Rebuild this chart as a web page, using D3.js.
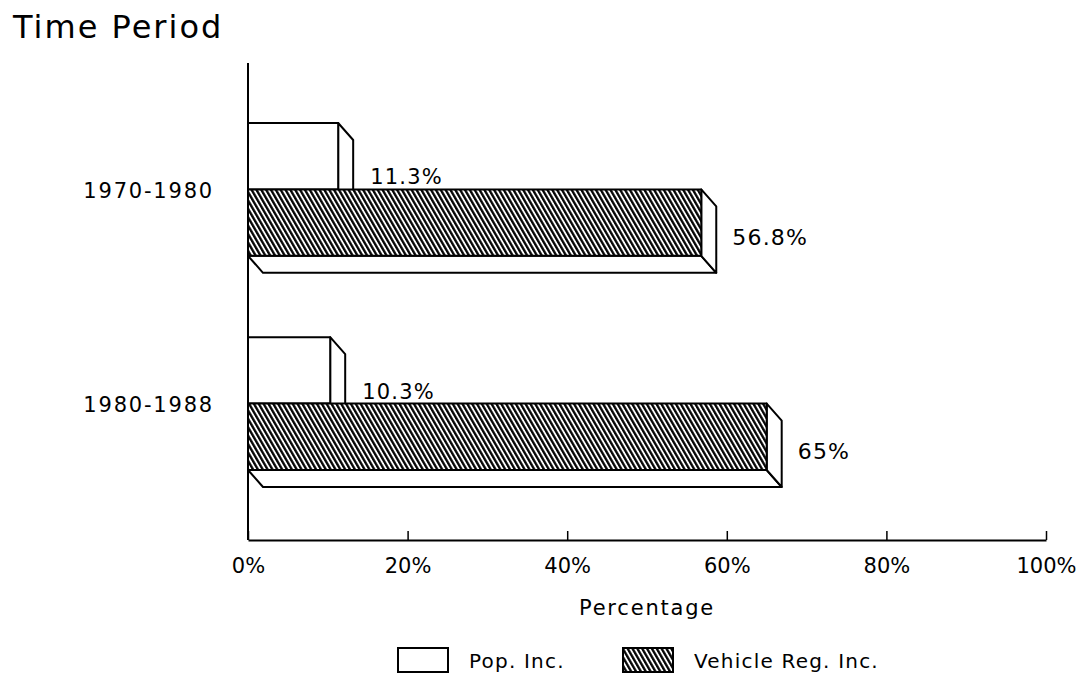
<!DOCTYPE html>
<html>
<head>
<meta charset="utf-8">
<script src="https://cdn.jsdelivr.net/npm/d3@7"></script>
<style>
  body { margin: 0; background: #fff; }
  svg { display: block; }
  text { font-family: "DejaVu Sans", sans-serif; fill: #000; }
</style>
</head>
<body>
<script>
const periods = ["1970-1980", "1980-1988"];
const popInc = [11.3, 10.3];
const vehicleInc = [56.8, 65];
const xTicks = [0, 20, 40, 60, 80, 100];
const seriesNames = ["Pop. Inc.", "Vehicle Reg. Inc."];

const width = 1084;
const height = 680;
const left = 248;
const right = 1046;
const axisY = 540;
const axisTop = 63;
const depthX = 15;
const depthY = 17;

const svg = d3
  .select("body")
  .append("svg")
  .attr("width", width)
  .attr("height", height);

// hatch pattern (white ground, dark diagonal strokes)
const hatch = svg
  .append("defs")
  .append("pattern")
  .attr("id", "hatch")
  .attr("patternUnits", "userSpaceOnUse")
  .attr("width", 4.2)
  .attr("height", 10)
  .attr("patternTransform", "rotate(-30)");
hatch
  .append("rect")
  .attr("width", 4.2)
  .attr("height", 10)
  .attr("fill", "#fff");
hatch
  .append("line")
  .attr("x1", 1.2)
  .attr("x2", 1.2)
  .attr("y1", -1)
  .attr("y2", 11)
  .attr("stroke", "#000")
  .attr("stroke-width", 2.3);

const xScale = d3.scaleLinear().domain([0, 100]).range([left, right]);
const yScale = d3
  .scaleBand()
  .domain(periods)
  .range([axisTop, 530])
  .paddingInner(0.38)
  .paddingOuter(0.28);
const barH = yScale.bandwidth() / 2;

// title
svg
  .append("text")
  .attr("x", 13)
  .attr("y", 38)
  .style("font-size", "32px")
  .style("letter-spacing", "2px")
  .text("Time Period");

// 3D bar: bottom face, right face, front face
const drawBar = (x1, top, fill) => {
  const x0 = xScale(0);
  const bottom = top + barH;
  const g = svg.append("g").attr("stroke", "#000").attr("stroke-width", 2)
    .attr("stroke-linejoin", "round");
  g.append("path")
    .attr("fill", "#fff")
    .attr("d", `M${x0},${bottom}L${x0 + depthX},${bottom + depthY}L${x1 + depthX},${bottom + depthY}L${x1},${bottom}Z`);
  g.append("path")
    .attr("fill", "#fff")
    .attr("d", `M${x1},${top}L${x1 + depthX},${top + depthY}L${x1 + depthX},${bottom + depthY}L${x1},${bottom}Z`);
  g.append("rect")
    .attr("x", x0)
    .attr("y", top)
    .attr("width", x1 - x0)
    .attr("height", barH)
    .attr("fill", fill);
};

periods.forEach((p, i) => {
  const top = yScale(p);
  drawBar(xScale(popInc[i]), top, "#fff");
  drawBar(xScale(vehicleInc[i]), top + barH, "url(#hatch)");

  svg
    .append("text")
    .attr("x", xScale(popInc[i]) + depthX + 17)
    .attr("y", top + barH - 5)
    .style("font-size", "21px")
    .style("letter-spacing", "1.2px")
    .text(`${popInc[i]}%`);

  svg
    .append("text")
    .attr("x", xScale(vehicleInc[i]) + depthX + 16)
    .attr("y", top + barH * 1.5 + depthY - 3)
    .attr("dy", "0.36em")
    .style("font-size", "22px")
    .style("letter-spacing", "1.2px")
    .text(`${vehicleInc[i]}%`);
});

// Y-Axis
svg
  .append("line")
  .attr("x1", left)
  .attr("x2", left)
  .attr("y1", axisTop)
  .attr("y2", axisY)
  .attr("stroke", "#000")
  .attr("stroke-width", 2);

const yAxis = svg
  .append("g")
  .attr("transform", `translate(${left}, 0)`)
  .call(d3.axisLeft(yScale).tickSize(0).tickPadding(34));
yAxis.select(".domain").remove();
yAxis
  .selectAll("text")
  .style("font-size", "21px")
  .style("font-family", "DejaVu Sans, sans-serif")
  .style("letter-spacing", "1.8px")
  .attr("dy", "0.42em");

// X-Axis
const xAxis = svg
  .append("g")
  .attr("transform", `translate(0, ${axisY})`)
  .call(
    d3
      .axisBottom(xScale)
      .tickValues(xTicks)
      .tickSizeInner(-9)
      .tickSizeOuter(0)
      .tickPadding(18)
      .tickFormat((d) => `${d}%`)
  );
xAxis.select(".domain").attr("stroke-width", 2);
xAxis.selectAll(".tick line").attr("stroke-width", 1.5);
xAxis
  .selectAll("text")
  .style("font-size", "21px")
  .style("font-family", "DejaVu Sans, sans-serif");

svg
  .append("text")
  .attr("x", (left + right) / 2)
  .attr("y", 615)
  .attr("text-anchor", "middle")
  .style("font-size", "21px")
  .style("letter-spacing", "1.8px")
  .text("Percentage");

// Legend
const legend = svg.append("g").attr("transform", "translate(398, 648)");
const legendX = [0, 225];
const legendFill = ["#fff", "url(#hatch)"];

legend
  .selectAll("rect")
  .data(seriesNames)
  .enter()
  .append("rect")
  .attr("x", (d, i) => legendX[i])
  .attr("width", 50)
  .attr("height", 24)
  .attr("fill", (d, i) => legendFill[i])
  .attr("stroke", "#000")
  .attr("stroke-width", 2);

legend
  .selectAll("text")
  .data(seriesNames)
  .enter()
  .append("text")
  .attr("x", (d, i) => legendX[i] + 71)
  .attr("y", 20)
  .style("font-size", "20px")
  .style("letter-spacing", "1.2px")
  .text((d) => d);
</script>
</body>
</html>
